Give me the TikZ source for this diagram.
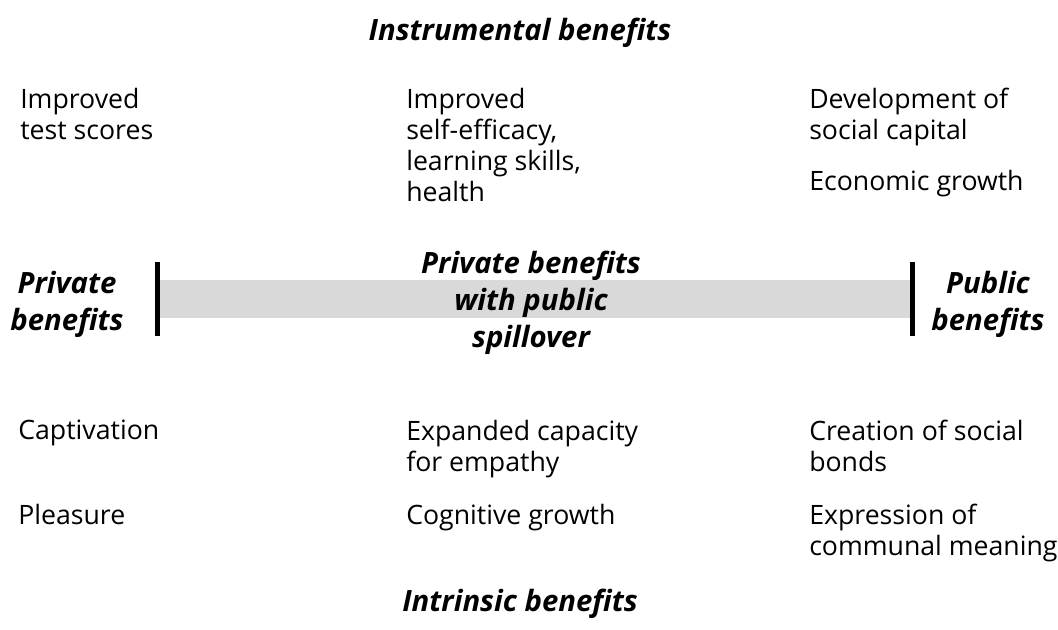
\documentclass[tikz,border=0pt]{standalone}
\usepackage{fontspec}
\setmainfont{Open Sans}

\begin{document}
\begin{tikzpicture}[x=0.75pt, y=-0.75pt,
  item/.style={anchor=north west, inner sep=0pt, align=left, font=\fontsize{20}{23.25}\selectfont},
  head/.style={inner sep=0pt, align=center, font=\fontsize{22}{27.75}\selectfont\bfseries\itshape}]
\useasboundingbox (0,0) rectangle (1058,630);
% the band between private and public
\fill[black!15] (160,280) rectangle (910,318);
\draw[line width=3.75pt] (157,262) -- (157,336);
\draw[line width=3.75pt] (912,262) -- (912,336);
\node[head] (instr) at (520,33) {Instrumental benefits};
\node[head] (intrin) at (520,604) {Intrinsic benefits};
\node[head] (priv) at (67,304) {Private\\benefits};
\node[head] (publ) at (988,304) {Public\\benefits};
\node[head] (spill) at (531,303) {Private benefits\\with public\\spillover};
% instrumental row
\node[item] (tests) at (20,88) {Improved\\test scores};
\node[item] (selfeff) at (406,88) {Improved\\self-efficacy,\\learning skills,\\health};
\node[item] (capital) at (809,88) {Development of\\social capital};
\node[item] (econ) at (809,170) {Economic growth};
% intrinsic row
\node[item] (captiv) at (18,420) {Captivation};
\node[item] (pleas) at (18,504) {Pleasure};
\node[item] (empath) at (406,420) {Expanded capacity\\for empathy};
\node[item] (cogn) at (406,504) {Cognitive growth};
\node[item] (bonds) at (809,420) {Creation of social\\bonds};
\node[item] (commun) at (809,504) {Expression of\\communal meaning};
\end{tikzpicture}
\end{document}
